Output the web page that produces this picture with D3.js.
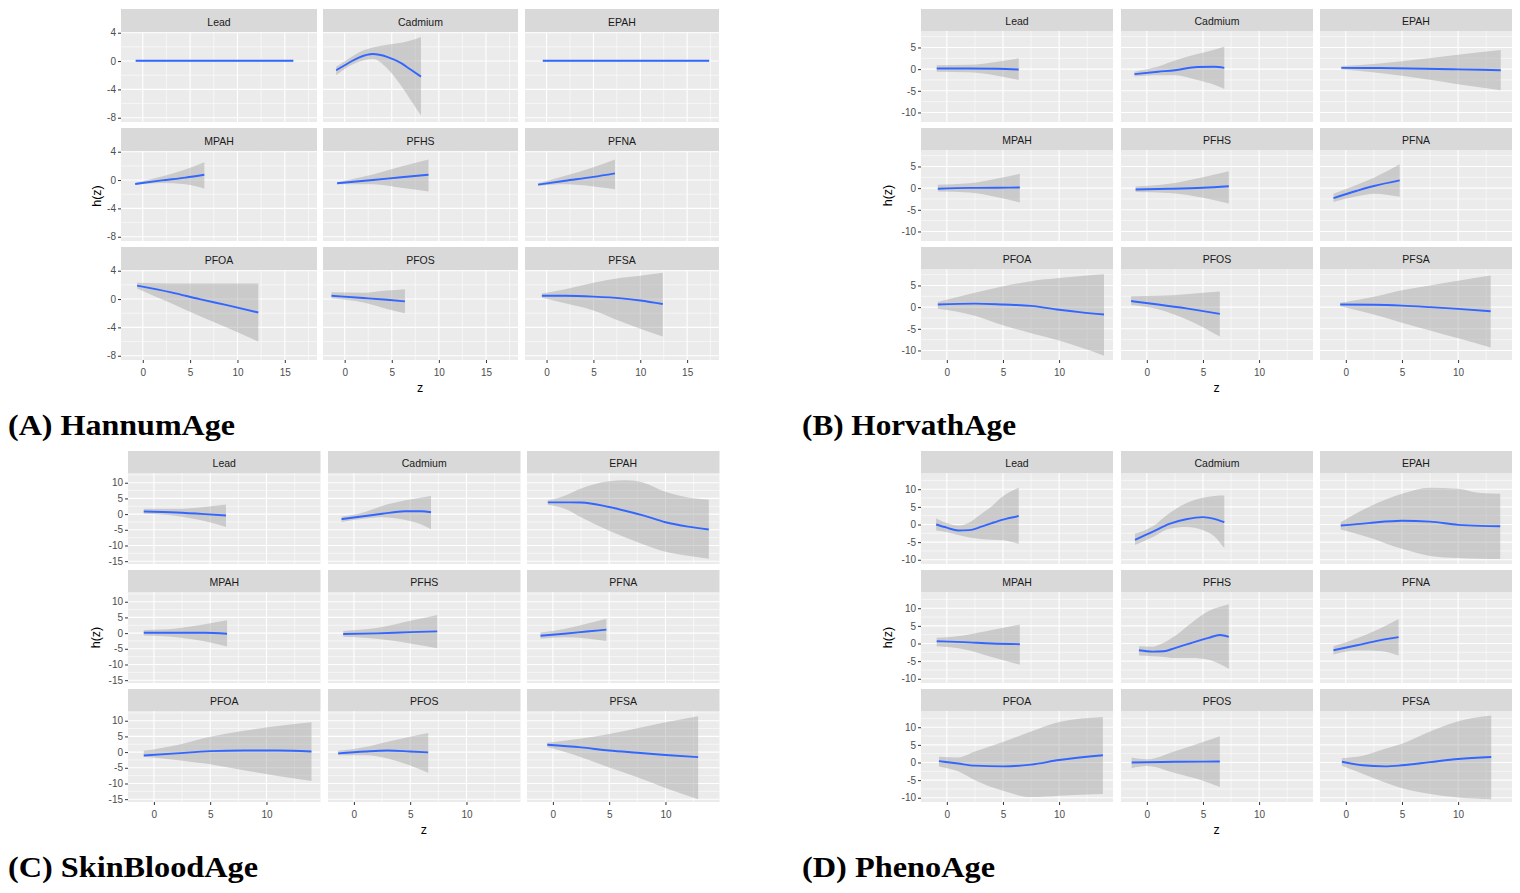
<!DOCTYPE html>
<html>
<head>
<meta charset="utf-8">
<script src="https://cdn.jsdelivr.net/npm/d3@7"></script>
<style>
  body { margin: 0; background: #fff; }
  svg { display: block; }
</style>
</head>
<body>
<svg id="chart" width="1520" height="893"></svg>
<script>
// Exposure-response estimates: rows are [z, h(z), lower, upper]
const exposures = ['Lead', 'Cadmium', 'EPAH', 'MPAH', 'PFHS', 'PFNA', 'PFOA', 'PFOS', 'PFSA'];

const hannumFit = {
  Lead: [[-0.75, 0.05, -0.05, 0.15], [15.9, 0.05, -0.05, 0.15]],
  Cadmium: [[-0.9, -1.3, -2.0, -0.8], [0.5, -0.2, -0.7, 0.4], [1.5, 0.5, -0.1, 1.2], [3, 1.0, 0.3, 1.9], [4.5, 0.6, -1.0, 2.3], [6, -0.3, -3.5, 2.6], [7, -1.2, -5.5, 2.9], [8.1, -2.2, -7.7, 3.4]],
  EPAH: [[-0.4, 0.05, -0.05, 0.15], [17.35, 0.05, -0.05, 0.15]],
  MPAH: [[-0.8, -0.55, -0.7, -0.4], [2, -0.05, -0.4, 0.5], [4.5, 0.35, -0.6, 1.5], [6.5, 0.75, -1.2, 2.5]],
  PFHS: [[-0.8, -0.45, -0.6, -0.3], [3, 0.0, -0.6, 0.8], [6, 0.4, -1.1, 1.9], [8.9, 0.75, -1.6, 2.9]],
  PFNA: [[-0.9, -0.65, -0.8, -0.45], [2, -0.1, -0.6, 0.6], [5, 0.45, -0.9, 1.8], [7.3, 0.95, -1.3, 2.9]],
  PFOA: [[-0.6, 1.9, 1.5, 2.3], [3, 0.95, -0.6, 2.2], [6, 0.0, -2.4, 2.2], [9, -0.9, -4.1, 2.2], [12.2, -1.9, -6.0, 2.2]],
  PFOS: [[-1.4, 0.47, 0.1, 0.95], [2, 0.15, -0.5, 0.9], [4.5, -0.1, -1.4, 1.2], [6.4, -0.33, -2.0, 1.4]],
  PFSA: [[-0.5, 0.47, 0.2, 0.8], [2, 0.47, -0.6, 1.4], [5, 0.35, -1.6, 2.3], [8, 0.1, -3.2, 3.0], [10, -0.2, -4.2, 3.3], [12.4, -0.7, -5.3, 3.7]],
};

const horvathFit = {
  Lead: [[-0.9, 0.15, -0.6, 0.9], [2, 0.15, -0.7, 1.0], [4.5, 0.1, -1.5, 1.7], [6.4, -0.1, -2.5, 2.5]],
  Cadmium: [[-1.1, -1.15, -1.7, -0.6], [1, -0.6, -1.4, 0.6], [2.5, -0.25, -1.4, 2.0], [4.5, 0.5, -2.5, 3.5], [6, 0.55, -3.6, 4.5], [6.9, 0.3, -4.6, 5.25]],
  EPAH: [[-0.4, 0.3, 0.0, 0.7], [3, 0.25, -0.9, 1.3], [7, 0.1, -2.3, 2.4], [10, -0.05, -3.5, 3.3], [13.8, -0.25, -4.9, 4.4]],
  MPAH: [[-0.8, -0.15, -0.8, 0.8], [2, 0.05, -1.0, 1.1], [4.5, 0.1, -2.1, 2.2], [6.5, 0.15, -3.3, 3.3]],
  PFHS: [[-1.0, -0.3, -0.9, 0.4], [2, -0.15, -1.1, 1.0], [5, 0.1, -2.2, 2.5], [7.3, 0.45, -3.55, 3.9]],
  PFNA: [[-1.1, -2.3, -3.2, -1.3], [1, -0.6, -1.9, 0.8], [2.5, 0.5, -1.3, 2.4], [4.8, 1.8, -2.0, 5.5]],
  PFOA: [[-0.8, 0.6, -0.4, 1.2], [2.5, 0.8, -2.0, 3.3], [5, 0.6, -4.2, 4.8], [7.5, 0.3, -6.0, 6.0], [10, -0.6, -7.7, 6.7], [12, -1.2, -9.4, 7.2], [14.0, -1.7, -11.2, 7.6]],
  PFOS: [[-1.4, 1.4, 0.5, 2.5], [1, 0.6, -0.5, 2.6], [3.5, -0.3, -2.8, 3.0], [6.5, -1.55, -6.8, 3.6]],
  PFSA: [[-0.5, 0.6, 0.2, 1.0], [2.5, 0.55, -1.7, 2.4], [5, 0.35, -3.6, 3.9], [7.5, 0.0, -5.4, 5.0], [10, -0.4, -7.2, 6.1], [12.9, -0.95, -9.3, 7.3]],
};

const skinBloodFit = {
  Lead: [[-0.9, 0.85, 0.1, 1.7], [2, 0.5, -0.6, 1.7], [4.5, 0.0, -2.2, 2.3], [6.4, -0.45, -4.1, 3.1]],
  Cadmium: [[-1.1, -1.6, -2.5, -0.8], [1, -0.6, -1.4, 0.7], [2.5, 0.1, -1.0, 2.6], [4.5, 0.9, -1.8, 4.3], [6, 0.9, -3.3, 5.3], [6.85, 0.6, -4.8, 5.8]],
  EPAH: [[-0.45, 3.75, 3.0, 4.4], [1, 3.75, 1.8, 5.8], [2.5, 3.7, -1.0, 8.2], [5, 2.25, -5.3, 10.5], [6.5, 1.0, -7.5, 10.8], [8, -0.4, -9.6, 10.1], [10, -2.6, -12.0, 7.1], [12, -4.0, -13.3, 5.3], [13.85, -4.9, -14.2, 4.6]],
  MPAH: [[-0.9, 0.1, -0.8, 1.0], [2, 0.1, -1.3, 1.5], [4.5, 0.1, -2.6, 2.8], [6.5, -0.2, -4.3, 4.1]],
  PFHS: [[-0.95, -0.3, -1.2, 0.7], [2, -0.1, -1.8, 1.6], [5, 0.3, -3.3, 3.9], [7.4, 0.55, -4.8, 5.8]],
  PFNA: [[-1.1, -0.85, -1.8, 0.2], [1, -0.2, -1.3, 1.3], [3, 0.5, -1.7, 3.0], [4.75, 1.1, -2.5, 4.6]],
  PFOA: [[-0.9, -1.1, -1.5, 0.4], [2, -0.4, -2.5, 2.2], [5, 0.3, -3.9, 4.9], [8, 0.5, -5.8, 6.8], [11, 0.5, -7.6, 8.3], [14, 0.2, -9.2, 9.5]],
  PFOS: [[-1.4, -0.4, -1.0, 0.4], [1, 0.2, -1.0, 1.6], [3, 0.5, -2.0, 3.3], [5, 0.2, -4.3, 4.9], [6.6, -0.1, -6.6, 6.1]],
  PFSA: [[-0.5, 2.35, 1.6, 3.0], [2.5, 1.5, -1.6, 4.3], [5, 0.5, -4.9, 5.8], [7.5, -0.2, -8.0, 7.6], [10, -0.9, -11.4, 9.5], [12.9, -1.6, -15.0, 11.4]],
};

const phenoFit = {
  Lead: [[-0.95, 0.0, -1.7, 1.8], [0, -0.9, -2.2, 0.4], [1, -1.7, -3.0, -0.3], [2, -1.6, -3.7, 0.6], [3, -0.7, -4.1, 2.8], [4, 0.4, -4.3, 5.2], [5, 1.4, -4.5, 8.0], [6.4, 2.4, -5.5, 10.4]],
  Cadmium: [[-1.05, -4.35, -5.8, -2.65], [0.5, -2.1, -3.6, -0.6], [2, 0.2, -1.2, 3.2], [3.5, 1.5, -0.7, 6.0], [5, 2.1, -1.6, 7.6], [6, 1.6, -3.3, 8.1], [6.9, 0.65, -6.7, 8.2]],
  EPAH: [[-0.45, -0.3, -1.4, 0.65], [2, 0.4, -3.6, 4.9], [5, 1.05, -6.9, 8.7], [7.5, 0.8, -8.9, 10.4], [10, -0.1, -9.5, 10.1], [12, -0.4, -9.7, 8.9], [13.75, -0.5, -9.8, 8.7]],
  MPAH: [[-0.9, 0.65, -0.8, 1.6], [1.5, 0.4, -1.6, 2.3], [4, 0.0, -3.8, 3.8], [6.5, -0.2, -6.0, 5.4]],
  PFHS: [[-0.7, -1.9, -3.4, -0.75], [0.5, -2.3, -3.6, -0.9], [1.5, -2.2, -3.8, 0.2], [2.5, -1.3, -4.1, 2.1], [4, 0.2, -4.1, 5.9], [5.5, 1.6, -4.6, 9.2], [6.5, 2.4, -5.8, 10.4], [7.3, 1.9, -7.2, 11.1]],
  PFNA: [[-1.1, -1.9, -3.1, -0.75], [1, -0.5, -2.0, 1.5], [3, 0.9, -2.1, 4.2], [4.7, 1.8, -3.4, 6.95]],
  PFOA: [[-0.7, 0.4, -1.1, 1.6], [1, -0.3, -2.5, 1.4], [2.5, -0.9, -5.0, 3.1], [5, -1.1, -8.0, 5.8], [7.5, -0.6, -9.8, 8.8], [10, 0.7, -9.4, 11.5], [13.9, 2.05, -8.9, 12.9]],
  PFOS: [[-1.35, 0.0, -1.6, 1.4], [0, 0.05, -1.0, 0.9], [2.5, 0.2, -3.0, 3.2], [5, 0.25, -5.2, 5.8], [6.5, 0.3, -6.95, 7.45]],
  PFSA: [[-0.35, 0.2, -0.9, 1.2], [1.5, -0.8, -3.2, 1.9], [3.5, -1.1, -5.7, 3.9], [5, -0.8, -7.3, 5.3], [7.5, 0.1, -8.9, 8.8], [10, 1.0, -9.9, 11.7], [12.95, 1.55, -10.4, 13.3]],
};

// axis breaks
const hannumYTicks = [-8, -4, 0, 4];
const horvathYTicks = [-10, -5, 0, 5];
const skinBloodYTicks = [-15, -10, -5, 0, 5, 10];
const phenoYTicks = [-10, -5, 0, 5, 10];
const xTicksLong = [0, 5, 10, 15];
const xTicksShort = [0, 5, 10];

const captions = [
  { tag: '(A)', name: 'HannumAge' },
  { tag: '(B)', name: 'HorvathAge' },
  { tag: '(C)', name: 'SkinBloodAge' },
  { tag: '(D)', name: 'PhenoAge' },
];

const svg = d3.select('#chart');
const FONT = 'Liberation Sans, Arial, sans-serif';

const colsLeft = [[121, 317], [323, 518], [525, 719]];
const colsRight = [[921, 1113], [1121, 1313], [1320, 1512]];
const colsLowerLeft = [[128, 320.5], [328, 520.5], [527, 719.5]];

const groups = [
  { fit: hannumFit, cols: colsLeft, top: 9, stripH: 23, panelH: 90, xDomain: [-2.3, 18.4], xTicks: xTicksLong,
    yDomain: [-8.6, 4.1], yTicks: hannumYTicks, titleX: 97, caption: captions[0], capX: 8, capY: 435, capW: 227 },
  { fit: horvathFit, cols: colsRight, top: 9, stripH: 22, panelH: 91, xDomain: [-2.3, 14.8], xTicks: xTicksShort,
    yDomain: [-12.2, 8.8], yTicks: horvathYTicks, titleX: 888, caption: captions[1], capX: 802, capY: 435, capW: 214 },
  { fit: skinBloodFit, cols: colsLowerLeft, top: 451, stripH: 22, panelH: 91, xDomain: [-2.3, 14.8], xTicks: xTicksShort,
    yDomain: [-15.9, 13.1], yTicks: skinBloodYTicks, titleX: 96, caption: captions[2], capX: 8, capY: 877, capW: 250 },
  { fit: phenoFit, cols: colsRight, top: 451, stripH: 22, panelH: 91, xDomain: [-2.3, 14.8], xTicks: xTicksShort,
    yDomain: [-11.2, 14.6], yTicks: phenoYTicks, titleX: 888, caption: captions[3], capX: 802, capY: 877, capW: 193 },
];

const ROW_STEP = 119;

// minor breaks halfway between majors, ggplot style
function minorBreaks(ticks, domain) {
  const step = ticks[1] - ticks[0];
  const out = [];
  for (let v = ticks[0] - step / 2; v <= domain[1]; v += step) {
    if (v >= domain[0]) out.push(v);
  }
  return out;
}

function styleAxis(axisG) {
  axisG.select('.domain').remove();
  axisG.selectAll('.tick line').attr('stroke', '#333333').attr('stroke-width', 1);
  axisG.selectAll('.tick text')
    .attr('fill', '#4D4D4D')
    .style('font-family', FONT)
    .style('font-size', '10px');
}

// ggplot prints a plain hyphen for negatives
const plainNumber = (d) => String(d);

function drawGroup(g) {
  const root = svg.append('g');

  exposures.forEach((name, i) => {
    const col = i % 3;
    const row = Math.floor(i / 3);
    const [x0, x1] = g.cols[col];
    const stripTop = g.top + row * ROW_STEP;
    const panelTop = stripTop + g.stripH;
    const panelBottom = panelTop + g.panelH;

    const x = d3.scaleLinear().domain(g.xDomain).range([x0, x1]);
    const y = d3.scaleLinear().domain(g.yDomain).range([panelBottom, panelTop]);

    const facet = root.append('g');

    facet.append('rect')
      .attr('x', x0).attr('y', panelTop)
      .attr('width', x1 - x0).attr('height', panelBottom - panelTop)
      .attr('fill', '#EBEBEB');

    // grid
    const grid = facet.append('g').attr('stroke', '#FFFFFF');
    grid.selectAll('.ymin').data(minorBreaks(g.yTicks, g.yDomain)).enter().append('line')
      .attr('x1', x0).attr('x2', x1).attr('y1', (d) => y(d)).attr('y2', (d) => y(d))
      .attr('stroke-width', 0.55);
    grid.selectAll('.xmin').data(minorBreaks(g.xTicks, g.xDomain)).enter().append('line')
      .attr('y1', panelTop).attr('y2', panelBottom).attr('x1', (d) => x(d)).attr('x2', (d) => x(d))
      .attr('stroke-width', 0.55);
    grid.selectAll('.ymaj').data(g.yTicks).enter().append('line')
      .attr('x1', x0).attr('x2', x1).attr('y1', (d) => y(d)).attr('y2', (d) => y(d))
      .attr('stroke-width', 1.1);
    grid.selectAll('.xmaj').data(g.xTicks).enter().append('line')
      .attr('y1', panelTop).attr('y2', panelBottom).attr('x1', (d) => x(d)).attr('x2', (d) => x(d))
      .attr('stroke-width', 1.1);

    const rows = g.fit[name];

    const band = d3.area()
      .curve(d3.curveMonotoneX)
      .x((d) => x(d[0]))
      .y0((d) => y(d[2]))
      .y1((d) => y(d[3]));

    const line = d3.line()
      .curve(d3.curveMonotoneX)
      .x((d) => x(d[0]))
      .y((d) => y(d[1]));

    facet.append('path')
      .attr('d', band(rows))
      .attr('fill', '#999999')
      .attr('fill-opacity', 0.4);

    facet.append('path')
      .attr('d', line(rows))
      .attr('fill', 'none')
      .attr('stroke', '#3366FF')
      .attr('stroke-width', 1.9);

    // strip
    facet.append('rect')
      .attr('x', x0).attr('y', stripTop)
      .attr('width', x1 - x0).attr('height', g.stripH)
      .attr('fill', '#D9D9D9');
    facet.append('text')
      .attr('x', (x0 + x1) / 2)
      .attr('y', stripTop + g.stripH / 2 + 1)
      .attr('text-anchor', 'middle')
      .attr('dominant-baseline', 'central')
      .attr('fill', '#1A1A1A')
      .style('font-family', FONT)
      .style('font-size', '10.5px')
      .text(name);

    // axes
    if (col === 0) {
      const ax = facet.append('g')
        .attr('transform', `translate(${x0},0)`)
        .call(d3.axisLeft(y).tickValues(g.yTicks).tickFormat(plainNumber).tickSize(3).tickPadding(2));
      styleAxis(ax);
    }
    if (row === 2) {
      const ax = facet.append('g')
        .attr('transform', `translate(0,${panelBottom})`)
        .call(d3.axisBottom(x).tickValues(g.xTicks).tickFormat(plainNumber).tickSize(3).tickPadding(6));
      styleAxis(ax);
    }
  });

  // axis titles
  const panelsTop = g.top + g.stripH;
  const panelsBottom = g.top + 2 * ROW_STEP + g.stripH + g.panelH;
  const midX = (g.cols[0][0] + g.cols[2][1]) / 2;

  root.append('text')
    .attr('x', midX)
    .attr('y', panelsBottom + 32)
    .attr('text-anchor', 'middle')
    .style('font-family', FONT)
    .style('font-size', '12.5px')
    .text('z');

  root.append('text')
    .attr('transform', `translate(${g.titleX},${(panelsTop + panelsBottom) / 2}) rotate(-90)`)
    .attr('text-anchor', 'middle')
    .attr('dominant-baseline', 'central')
    .style('font-family', FONT)
    .style('font-size', '12.5px')
    .text('h(z)');

  // caption
  const cap = root.append('text')
    .attr('x', g.capX)
    .attr('y', g.capY)
    .attr('textLength', g.capW)
    .attr('lengthAdjust', 'spacingAndGlyphs')
    .style('font-family', 'Liberation Serif, serif')
    .style('font-size', '30px')
    .style('font-weight', 'bold');
  cap.append('tspan').text(`${g.caption.tag} `);
  cap.append('tspan').text(g.caption.name);
}

groups.forEach(drawGroup);
</script>
</body>
</html>
